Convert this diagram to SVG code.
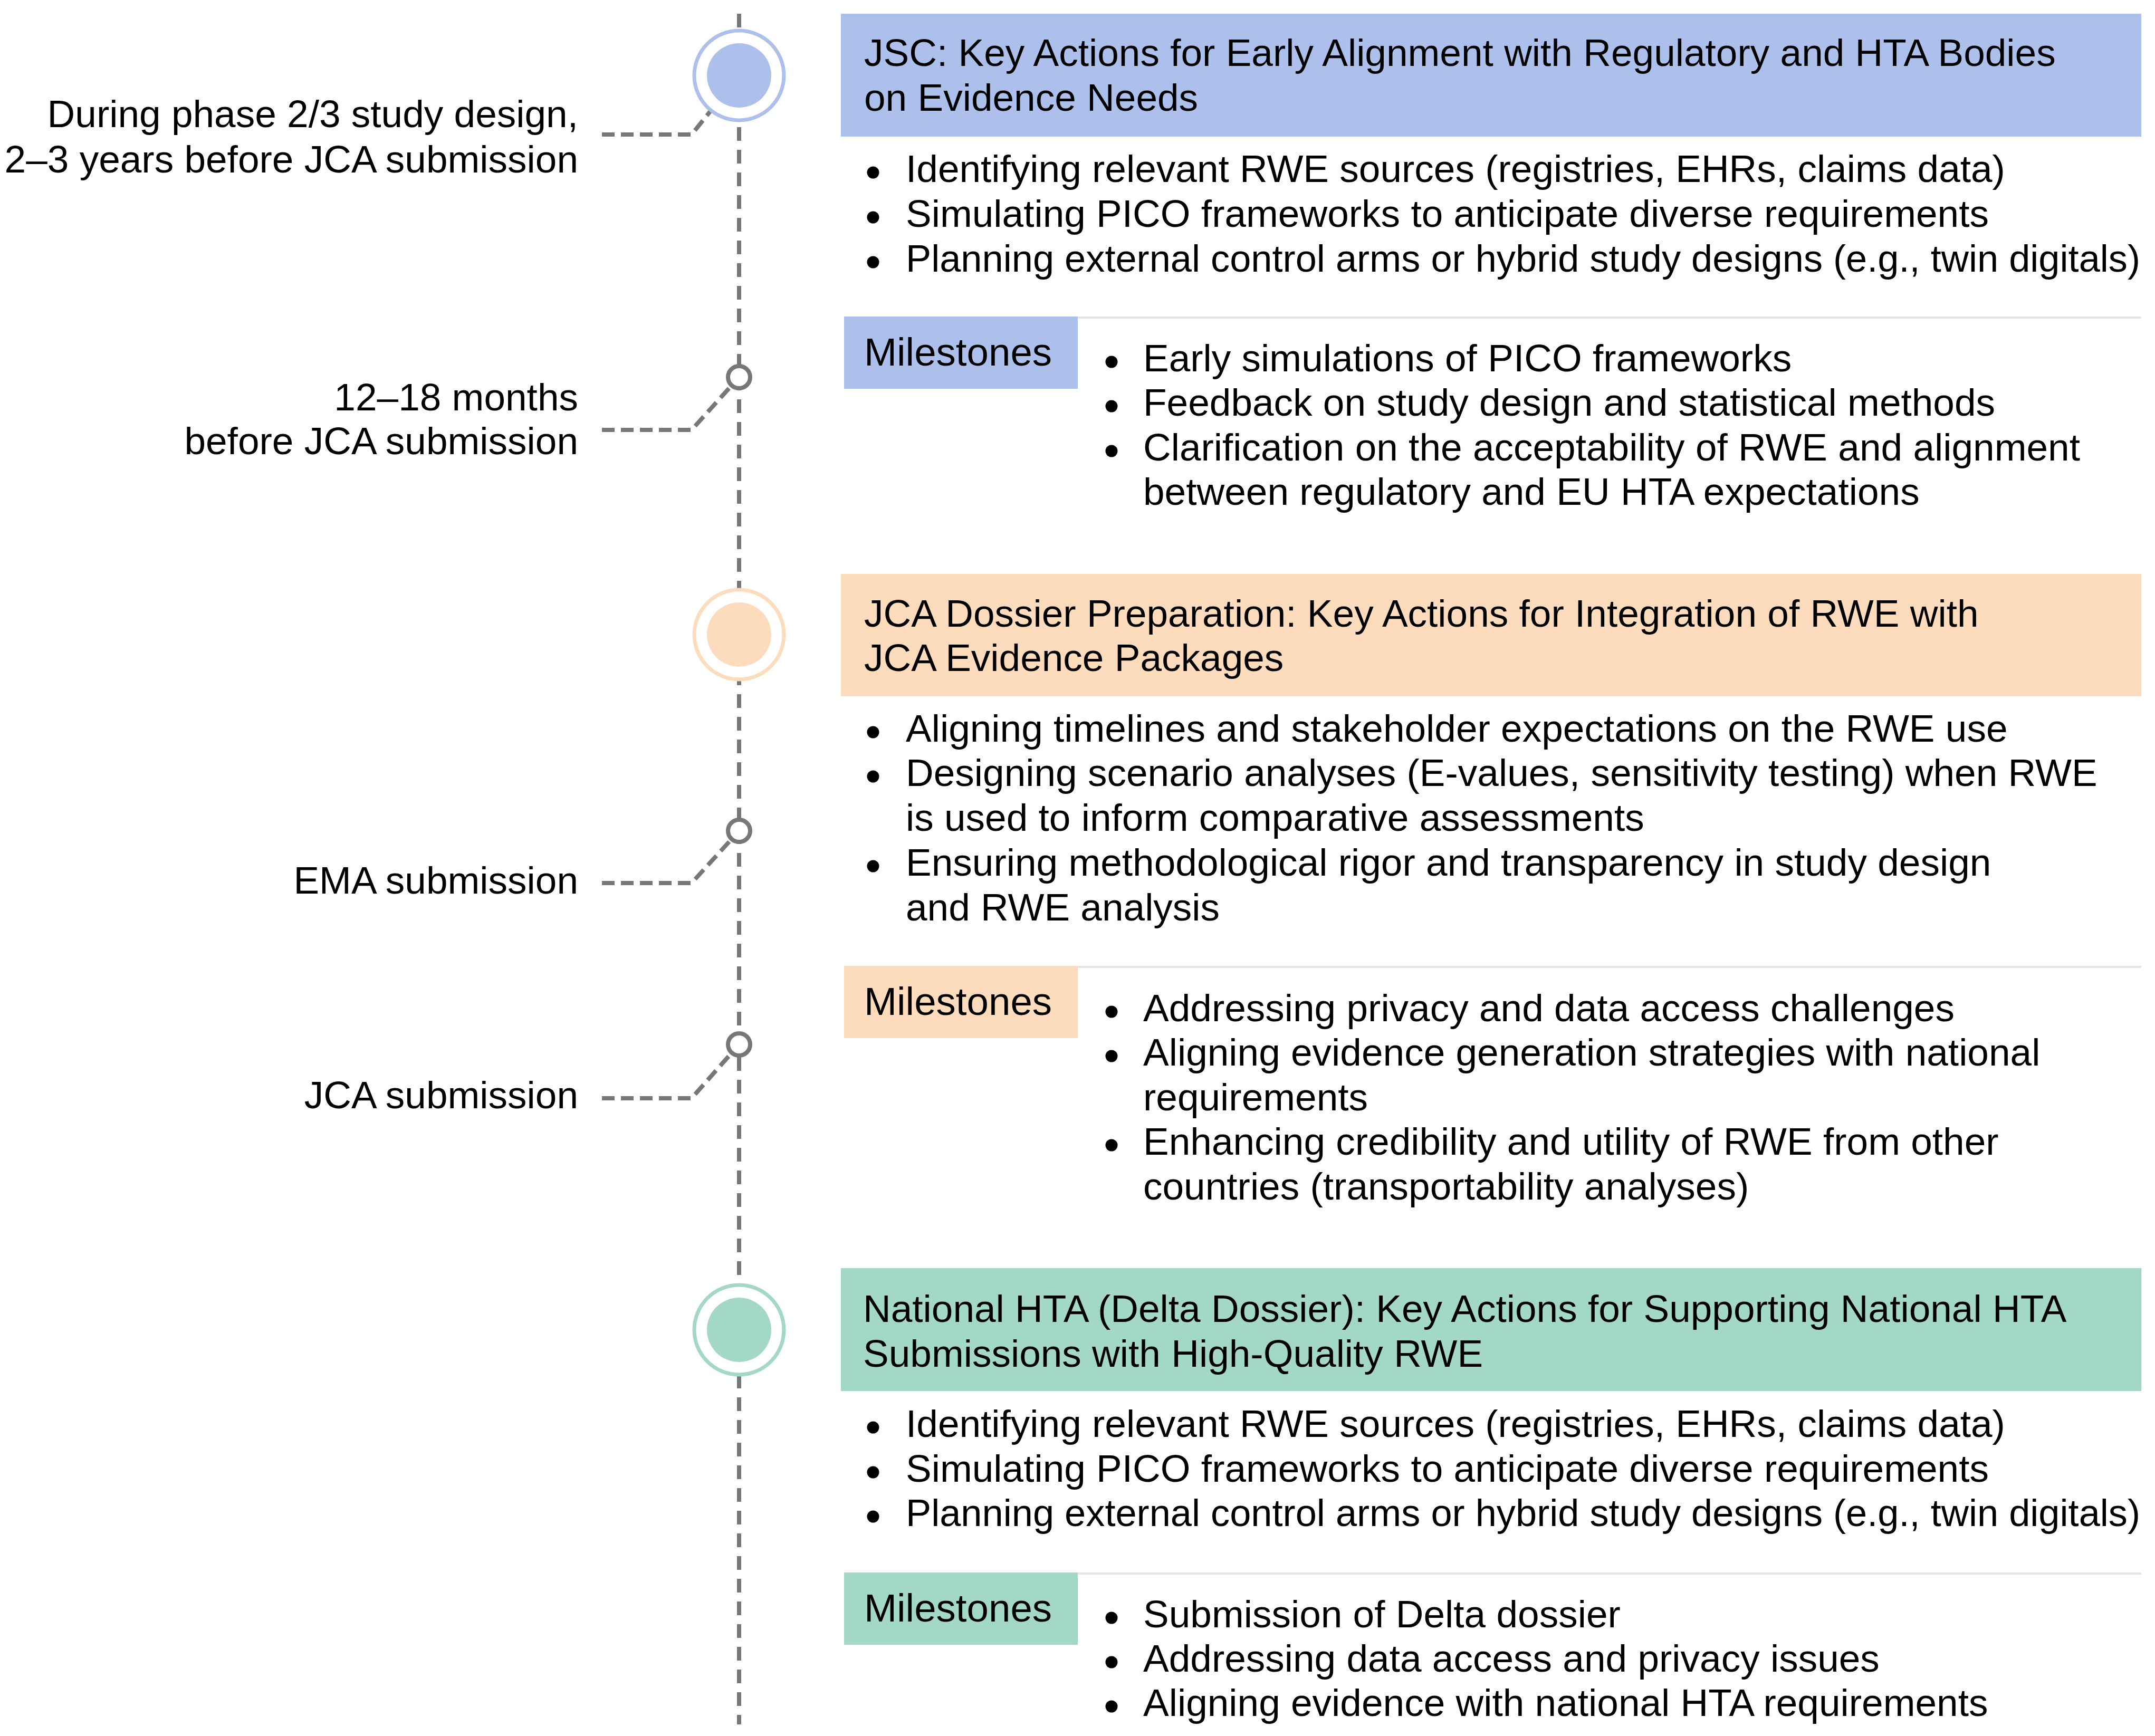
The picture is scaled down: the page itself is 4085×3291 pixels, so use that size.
<svg xmlns="http://www.w3.org/2000/svg" width="4085" height="3291" viewBox="0 0 4085 3291">
<style>
.t{font-family:"Liberation Sans",Arial,sans-serif;font-size:73px;fill:#000}
.ms{font-size:74.5px}
.lbl{text-anchor:end}
.tl{stroke:#777;stroke-width:8;stroke-dasharray:26 17;fill:none}
.cn{stroke:#777;stroke-width:8;stroke-dasharray:24 12;fill:none}
.sm{fill:#fff;stroke:#777;stroke-width:8}
.sep{stroke:#e4e4e4;stroke-width:4}
.dot{fill:#000}
.blue{fill:#adc0ec}
.orange{fill:#fddcbd}
.green{fill:#a3d8c5}
.ringb{fill:#fff;stroke:#adc0ec;stroke-width:7}
.ringo{fill:#fff;stroke:#fddcbd;stroke-width:7}
.ringg{fill:#fff;stroke:#a3d8c5;stroke-width:7}
</style>
<rect width="4085" height="3291" fill="#fff"/>

<g id="connectors">
  <line class="tl" x1="1401" y1="26" x2="1401" y2="3269"/>
  <path class="cn" d="M1141,255 H1311 L1401,143"/>
  <path class="cn" d="M1141,815 H1311 L1401,715"/>
  <path class="cn" d="M1141,1674 H1311 L1401,1575"/>
  <path class="cn" d="M1141,2082 H1311 L1401,1980"/>
</g>

<g id="label-phase23">
  <text class="t lbl" x="1096" y="241">During phase 2/3 study design,</text>
  <text class="t lbl" x="1096" y="327">2–3 years before JCA submission</text>
</g>
<g id="label-1218">
  <circle class="sm" cx="1401" cy="715" r="21"/>
  <text class="t lbl" x="1096" y="778">12–18 months</text>
  <text class="t lbl" x="1096" y="861">before JCA submission</text>
</g>
<g id="label-ema">
  <circle class="sm" cx="1401" cy="1575" r="21"/>
  <text class="t lbl" x="1096" y="1694">EMA submission</text>
</g>
<g id="label-jca">
  <circle class="sm" cx="1401" cy="1980" r="21"/>
  <text class="t lbl" x="1096" y="2101">JCA submission</text>
</g>

<g id="phase-jsc">
  <circle class="ringb" cx="1401" cy="143" r="85"/>
  <circle class="blue" cx="1401" cy="143" r="61"/>
  <rect class="blue" x="1594" y="26" width="2465" height="233"/>
  <text class="t" x="1638" y="125">JSC: Key Actions for Early Alignment with Regulatory and HTA Bodies</text>
  <text class="t" x="1638" y="210">on Evidence Needs</text>
  <circle class="dot" cx="1655" cy="327" r="11.5"/>
  <text class="t" x="1717" y="345">Identifying relevant RWE sources (registries, EHRs, claims data)</text>
  <circle class="dot" cx="1655" cy="412" r="11.5"/>
  <text class="t" x="1717" y="430">Simulating PICO frameworks to anticipate diverse requirements</text>
  <circle class="dot" cx="1655" cy="497" r="11.5"/>
  <text class="t" x="1717" y="515" textLength="2340" lengthAdjust="spacingAndGlyphs">Planning external control arms or hybrid study designs (e.g., twin digitals)</text>
  <line class="sep" x1="2043" y1="602" x2="4059" y2="602"/>
  <rect class="blue" x="1600" y="600" width="443" height="137"/>
  <text class="t ms" x="1638" y="693">Milestones</text>
  <circle class="dot" cx="2107" cy="686" r="11.5"/>
  <text class="t" x="2167" y="704">Early simulations of PICO frameworks</text>
  <circle class="dot" cx="2107" cy="770" r="11.5"/>
  <text class="t" x="2167" y="788">Feedback on study design and statistical methods</text>
  <circle class="dot" cx="2107" cy="855" r="11.5"/>
  <text class="t" x="2167" y="873">Clarification on the acceptability of RWE and alignment</text>
  <text class="t" x="2167" y="957">between regulatory and EU HTA expectations</text>
</g>

<g id="phase-jca">
  <circle class="ringo" cx="1401" cy="1203" r="85"/>
  <circle class="orange" cx="1401" cy="1203" r="61"/>
  <rect class="orange" x="1594" y="1088" width="2465" height="232"/>
  <text class="t" x="1638" y="1188">JCA Dossier Preparation: Key Actions for Integration of RWE with</text>
  <text class="t" x="1638" y="1272">JCA Evidence Packages</text>
  <circle class="dot" cx="1655" cy="1388" r="11.5"/>
  <text class="t" x="1717" y="1406">Aligning timelines and stakeholder expectations on the RWE use</text>
  <circle class="dot" cx="1655" cy="1472" r="11.5"/>
  <text class="t" x="1717" y="1490">Designing scenario analyses (E-values, sensitivity testing) when RWE</text>
  <text class="t" x="1717" y="1575">is used to inform comparative assessments</text>
  <circle class="dot" cx="1655" cy="1642" r="11.5"/>
  <text class="t" x="1717" y="1660">Ensuring methodological rigor and transparency in study design</text>
  <text class="t" x="1717" y="1745">and RWE analysis</text>
  <line class="sep" x1="2043" y1="1833" x2="4059" y2="1833"/>
  <rect class="orange" x="1600" y="1831" width="443" height="137"/>
  <text class="t ms" x="1638" y="1924">Milestones</text>
  <circle class="dot" cx="2107" cy="1918" r="11.5"/>
  <text class="t" x="2167" y="1936">Addressing privacy and data access challenges</text>
  <circle class="dot" cx="2107" cy="2002" r="11.5"/>
  <text class="t" x="2167" y="2020">Aligning evidence generation strategies with national</text>
  <text class="t" x="2167" y="2105">requirements</text>
  <circle class="dot" cx="2107" cy="2171" r="11.5"/>
  <text class="t" x="2167" y="2189">Enhancing credibility and utility of RWE from other</text>
  <text class="t" x="2167" y="2274">countries (transportability analyses)</text>
</g>

<g id="phase-national">
  <circle class="ringg" cx="1401" cy="2521" r="85"/>
  <circle class="green" cx="1401" cy="2521" r="61"/>
  <rect class="green" x="1594" y="2404" width="2465" height="233"/>
  <text class="t" x="1636" y="2506">National HTA (Delta Dossier): Key Actions for Supporting National HTA</text>
  <text class="t" x="1636" y="2591">Submissions with High-Quality RWE</text>
  <circle class="dot" cx="1655" cy="2706" r="11.5"/>
  <text class="t" x="1717" y="2724">Identifying relevant RWE sources (registries, EHRs, claims data)</text>
  <circle class="dot" cx="1655" cy="2791" r="11.5"/>
  <text class="t" x="1717" y="2809">Simulating PICO frameworks to anticipate diverse requirements</text>
  <circle class="dot" cx="1655" cy="2875" r="11.5"/>
  <text class="t" x="1717" y="2893" textLength="2340" lengthAdjust="spacingAndGlyphs">Planning external control arms or hybrid study designs (e.g., twin digitals)</text>
  <line class="sep" x1="2043" y1="2983" x2="4059" y2="2983"/>
  <rect class="green" x="1600" y="2981" width="443" height="137"/>
  <text class="t ms" x="1638" y="3074">Milestones</text>
  <circle class="dot" cx="2107" cy="3067" r="11.5"/>
  <text class="t" x="2167" y="3085">Submission of Delta dossier</text>
  <circle class="dot" cx="2107" cy="3151" r="11.5"/>
  <text class="t" x="2167" y="3169">Addressing data access and privacy issues</text>
  <circle class="dot" cx="2107" cy="3235" r="11.5"/>
  <text class="t" x="2167" y="3253">Aligning evidence with national HTA requirements</text>
</g>
</svg>
